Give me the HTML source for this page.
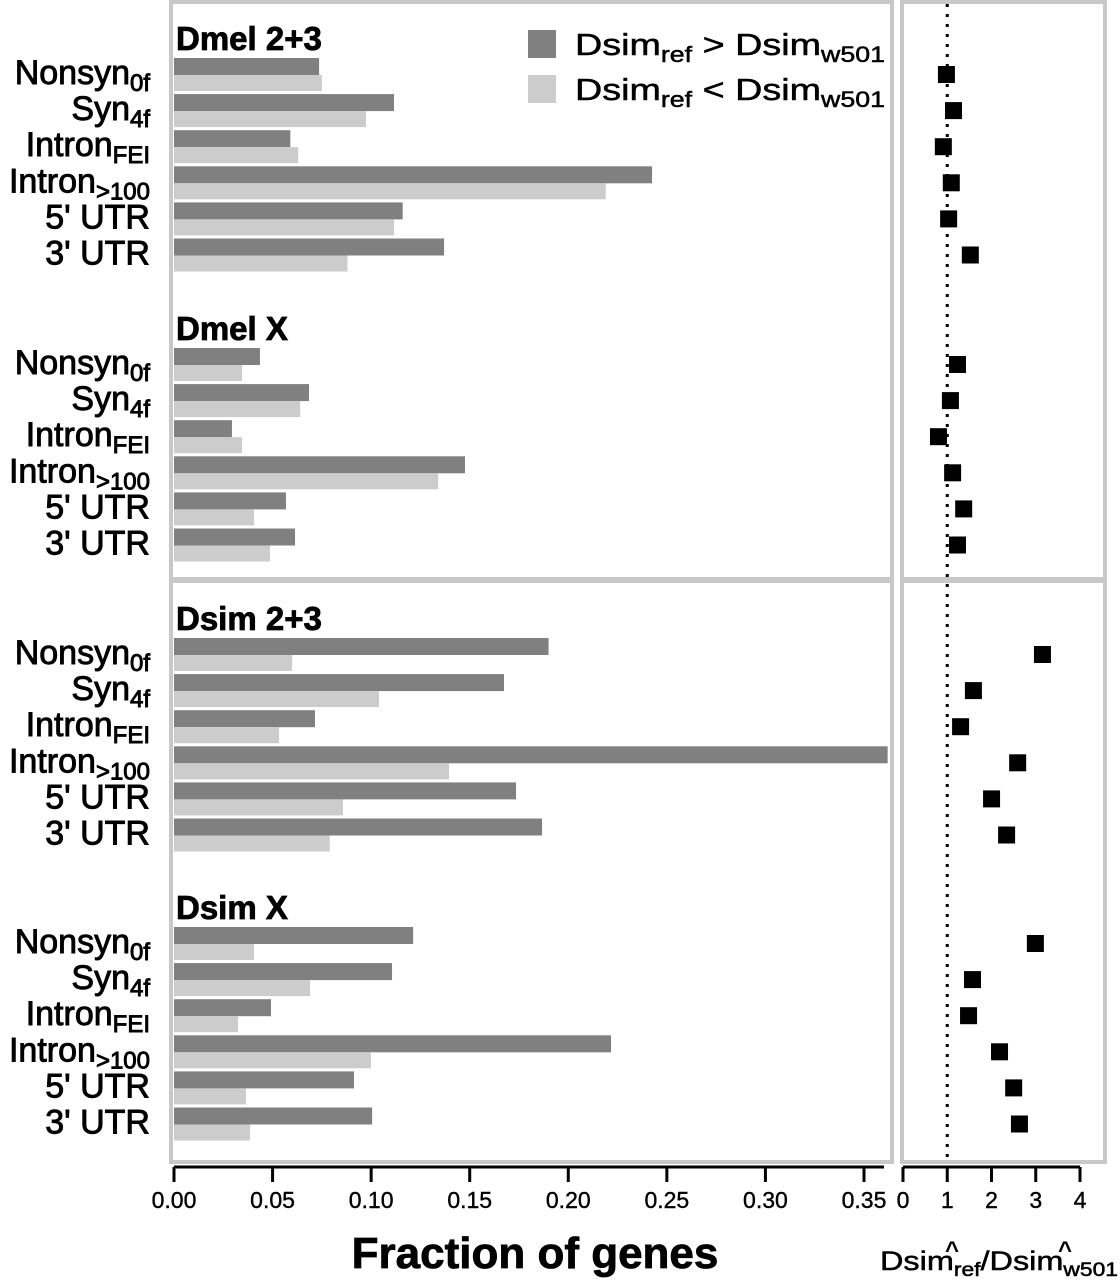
<!DOCTYPE html>
<html><head><meta charset="utf-8"><style>
html,body{margin:0;padding:0;background:#fff;}
svg{display:block;font-family:"Liberation Sans",sans-serif;}
</style></head><body>
<svg id="chart" width="1120" height="1280" viewBox="0 0 1120 1280"></svg>
<script>
const groups = ["Dmel 2+3","Dmel X","Dsim 2+3","Dsim X"];
const categories = ["Nonsyn","Syn","Intron","Intron","5' UTR","3' UTR"];
const catSubs = ["0f","4f","FEI",">100","",""];
const darkVals = [
 [0.0736,0.1116,0.059,0.2425,0.116,0.137],
 [0.0436,0.0685,0.0294,0.1476,0.0568,0.0614],
 [0.190,0.1674,0.0715,0.362,0.1735,0.1867],
 [0.1213,0.1106,0.0492,0.2217,0.0913,0.1005]];
const lightVals = [
 [0.075,0.0974,0.063,0.219,0.1116,0.088],
 [0.0345,0.064,0.0345,0.134,0.0406,0.0487],
 [0.0599,0.104,0.0533,0.1395,0.0857,0.079],
 [0.0406,0.069,0.0325,0.0999,0.0365,0.0386]];
const ratioVals = [
 [0.97,1.13,0.90,1.08,1.02,1.51],
 [1.22,1.06,0.79,1.11,1.36,1.22],
 [3.14,1.58,1.29,2.58,1.99,2.33],
 [2.98,1.56,1.47,2.17,2.49,2.62]];
const xTicks = [0,0.05,0.10,0.15,0.20,0.25,0.30,0.35];
const rTicks = [0,1,2,3,4];

const NS="http://www.w3.org/2000/svg";
const svg=document.getElementById('chart');
function el(tag,attrs,parent){const e=document.createElementNS(NS,tag);for(const k in attrs)e.setAttribute(k,attrs[k]);(parent||svg).appendChild(e);return e;}
const xs=v=>174+v*1971.4;
const xr=v=>903+v*44.25;
const groupTop=[58,348,638,927];
const rowStep=36.1;

let p=el('rect',{x:171,y:2,width:721,height:577,fill:'none',stroke:'#c8c8c8','stroke-width':4});

p=el('rect',{x:171,y:581,width:721,height:581,fill:'none',stroke:'#c8c8c8','stroke-width':4});

p=el('rect',{x:902,y:2,width:203,height:577,fill:'none',stroke:'#c8c8c8','stroke-width':4});

p=el('rect',{x:902,y:581,width:203,height:581,fill:'none',stroke:'#c8c8c8','stroke-width':4});


let rl=el('line',{x1:xr(1),x2:xr(1),y1:4,y2:1160,stroke:'#000','stroke-width':3,'stroke-dasharray':'3,7'});


groups.forEach((g,gi)=>{
  let t=el('text',{x:176,y:groupTop[gi]-8,'font-size':33,'font-weight':'bold',fill:'#000',stroke:'#000','stroke-width':0.8});
  t.textContent=g;
  
  categories.forEach((c,ci)=>{
    const top=groupTop[gi]+ci*rowStep;
    let b=el('rect',{x:xs(0),y:top,width:xs(darkVals[gi][ci])-xs(0),height:17,fill:'#808080'});
    
    b=el('rect',{x:xs(0),y:top+17,width:xs(lightVals[gi][ci])-xs(0),height:16,fill:'#cccccc'});
    
    const lab=el('text',{x:150,y:top+26,'text-anchor':'end','font-size':34,fill:'#000',stroke:'#000','stroke-width':0.9});
    
    const s1=el('tspan',{},lab);s1.textContent=c;
    if(catSubs[ci]){const s2=el('tspan',{'font-size':24,dy:7},lab);s2.textContent=catSubs[ci];}
    const pt=el('rect',{x:xr(ratioVals[gi][ci])-8,y:top+8,width:17,height:17,fill:'#000'});
    
  });
});

let lg=el('rect',{x:528,y:30,width:28,height:28,fill:'#808080'});

lg=el('rect',{x:528,y:75,width:28,height:28,fill:'#cccccc'});

[['>',55],['<',100]].forEach(([op,y])=>{
  const t=el('text',{x:575,y:y,'font-size':31,fill:'#000',stroke:'#000','stroke-width':0.5,textLength:310,lengthAdjust:'spacingAndGlyphs'});
  
  let a=el('tspan',{},t);a.textContent='Dsim';
  a=el('tspan',{'font-size':22,dy:7},t);a.textContent='ref';
  a=el('tspan',{dy:-7},t);a.textContent=' '+op+' Dsim';
  a=el('tspan',{'font-size':22,dy:7},t);a.textContent='w501';
});

let ax=el('line',{x1:174,x2:884,y1:1167,y2:1167,stroke:'#000','stroke-width':3});

xTicks.forEach(v=>{
  let tk=el('line',{x1:xs(v),x2:xs(v),y1:1167,y2:1182,stroke:'#000','stroke-width':3});
  
  let tl=el('text',{x:xs(v),y:1208,'text-anchor':'middle','font-size':23,fill:'#000',stroke:'#000','stroke-width':0.4});
  tl.textContent=v.toFixed(2);
  
});
let xt=el('text',{x:535,y:1268,'text-anchor':'middle','font-size':44,'font-weight':'bold',fill:'#000',stroke:'#000','stroke-width':0.8});
xt.textContent='Fraction of genes';


ax=el('line',{x1:xr(0),x2:xr(4),y1:1167,y2:1167,stroke:'#000','stroke-width':3});

rTicks.forEach(v=>{
  let tk=el('line',{x1:xr(v),x2:xr(v),y1:1167,y2:1182,stroke:'#000','stroke-width':3});
  
  let tl=el('text',{x:xr(v),y:1208,'text-anchor':'middle','font-size':23,fill:'#000',stroke:'#000','stroke-width':0.4});
  tl.textContent=String(v);
  
});
let rt=el('text',{x:880,y:1270,'font-size':27,fill:'#000',stroke:'#000','stroke-width':0.5,textLength:238,lengthAdjust:'spacingAndGlyphs'});

let q=el('tspan',{},rt);q.textContent='Dsim';
q=el('tspan',{'font-size':19,dy:6},rt);q.textContent='ref';
q=el('tspan',{dy:-6},rt);q.textContent='/Dsim';
q=el('tspan',{'font-size':19,dy:6},rt);q.textContent='w501';
[945,1058].forEach(x=>{let h=el('text',{x:x,y:1258,'font-size':24,'font-weight':'bold',fill:'#000'});h.textContent='^';
});
</script>
</body></html>
